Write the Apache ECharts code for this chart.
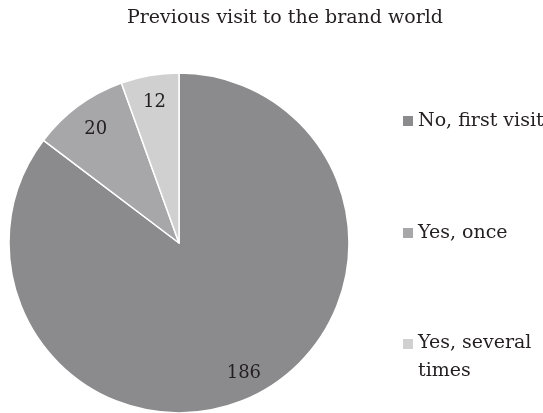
<!DOCTYPE html>
<html><head><meta charset="utf-8">
<script src="https://cdn.jsdelivr.net/npm/echarts@6/dist/echarts.min.js"></script>
<style>html,body{margin:0;padding:0;background:#fff}#c{width:543px;height:413px}</style>
</head><body><div id="c"></div>
<script>
const titleText = 'Previous visit to the brand world';
const categories = ['No, first visit', 'Yes, once', 'Yes, several times'];
const values = [186, 20, 12];
const colors = ['#8b8b8d', '#a7a7a9', '#d0d0d1'];
const labelRadiusRatio = [0.84, 0.81, 0.82];

const FONT = 'DejaVu Serif';
const R = 170;
const total = values.reduce((a, b) => a + b, 0);
let cum = 0;
const data = categories.map((name, i) => {
  const mid = (cum + values[i] / 2) / total * 2 * Math.PI;
  cum += values[i];
  const d = (labelRadiusRatio[i] - 0.5) * R;
  return {
    name, value: values[i],
    itemStyle: { color: colors[i] },
    label: { offset: [d * Math.sin(mid), -d * Math.cos(mid)] }
  };
});

const legendTop = [103, 215, 324];
const legends = categories.map((name, i) => {
  const two = i === 2;
  return {
    data: [{ name, icon: two ? 'path://M0,0L10,0L10,10L0,10Z M0,36L10,36' : 'rect' }],
    orient: 'vertical', left: 398, top: legendTop[i],
    itemWidth: 10, itemHeight: two ? 36 : 10, itemGap: 0,
    itemStyle: { borderWidth: 0 },
    selectedMode: false,
    formatter: two ? () => 'Yes, several\ntimes' : undefined,
    textStyle: { fontFamily: FONT, fontSize: 19, color: '#231f20', lineHeight: two ? 28 : 26, padding: [0, 0, 0, 0] }
  };
});

const chart = echarts.init(document.getElementById('c'), null, { renderer: 'canvas' });
chart.setOption({
  animation: false,
  title: {
    text: titleText, left: 280, top: 4, textAlign: 'center',
    textStyle: { fontFamily: FONT, fontSize: 19, fontWeight: 'normal', color: '#231f20' }
  },
  legend: legends,
  series: [{
    type: 'pie', center: [179, 243], radius: [0, R],
    startAngle: 90, clockwise: true,
    itemStyle: { borderColor: '#fff', borderWidth: 1.5 },
    label: { show: true, position: 'inside', formatter: '{c}', fontFamily: FONT, fontSize: 18, color: '#231f20' },
    labelLine: { show: false },
    emphasis: { disabled: true },
    data
  }]
});
</script></body></html>
